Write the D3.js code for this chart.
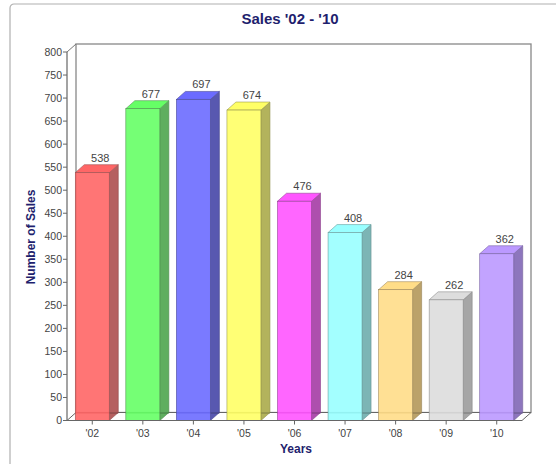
<!DOCTYPE html>
<html lang="en">
<head>
<meta charset="utf-8">
<script src="https://cdnjs.cloudflare.com/ajax/libs/d3/7.8.5/d3.min.js"></script>
<title>Sales '02 - '10</title>
<style>
body { margin: 0; background: #fff; }
text { font-family: "Liberation Sans", Arial, sans-serif; }
</style>
</head>
<body>
<div id="chart"></div>
<script>
const years = ["'02", "'03", "'04", "'05", "'06", "'07", "'08", "'09", "'10"];
const sales = [538, 677, 697, 674, 476, 408, 284, 262, 362];
const frontColors = ["#ff6666", "#66ff66", "#6b6bff", "#ffff66", "#ff55ff", "#99ffff", "#ffdd88", "#dddddd", "#bb99ff"];
const sideColors  = ["#b56060", "#5fae5f", "#5858b0", "#b3b35c", "#ae4fae", "#7cb5b5", "#bba26a", "#a6a6a6", "#8d76bd"];
const yTicks = d3.range(0, 801, 50);

const width = 556, height = 464;
const dx = 9, dy = 8;               // 3d depth
const plotL = 67, plotR = 522, plotT = 52, plotB = 420.5;

const svg = d3.select("#chart").append("svg").attr("width", width).attr("height", height);

// panel border
svg.append("rect").attr("x", 10).attr("y", 4).attr("width", 600).attr("height", 520)
  .attr("rx", 4).attr("fill", "none").attr("stroke", "#b0b0b0").attr("stroke-width", 1.2);

const x = d3.scaleBand().domain(years).range([plotL, plotR]);
const y = d3.scaleLinear().domain([0, 800]).range([plotB, plotT]);
const bw = 34;

// back wall
svg.append("rect").attr("x", plotL + dx).attr("y", plotT - dy)
  .attr("width", plotR - plotL).attr("height", plotB - plotT)
  .attr("fill", "#fff").attr("stroke", "#888").attr("stroke-width", 1.3);

// floor
svg.append("polygon")
  .attr("points", [[plotL, plotB], [plotL + dx, plotB - dy], [plotR + dx, plotB - dy], [plotR, plotB]].join(" "))
  .attr("fill", "#fff").attr("stroke", "#666").attr("stroke-width", 1);

// left wall top edge
svg.append("line").attr("x1", plotL).attr("y1", plotT).attr("x2", plotL + dx).attr("y2", plotT - dy)
  .attr("stroke", "#777");

// bars
const bars = svg.append("g").selectAll("g").data(sales).enter().append("g");
bars.each(function(v, i) {
  const g = d3.select(this);
  const x0 = x(years[i]) + x.bandwidth() / 2 - bw / 2, x1 = x0 + bw;
  const yt = y(v), yb = y(0);
  g.append("polygon")
    .attr("points", [[x1, yb], [x1 + dx, yb - dy], [x1 + dx, yt - dy], [x1, yt]].join(" "))
    .attr("fill", sideColors[i]).attr("stroke", d3.color(sideColors[i]).darker(0.6)).attr("stroke-width", 0.6);
  g.append("polygon")
    .attr("points", [[x0, yt], [x0 + dx, yt - dy], [x1 + dx, yt - dy], [x1, yt]].join(" "))
    .attr("fill", frontColors[i]).attr("stroke", d3.color(sideColors[i]).darker(0.4)).attr("stroke-width", 0.6);
  g.append("line").attr("x1", x0).attr("y1", yb - dy + 0.5).attr("x2", x1 + dx).attr("y2", yb - dy + 0.5)
    .attr("stroke", d3.color(sideColors[i]).darker(1)).attr("stroke-width", 1);
  g.append("rect").attr("x", x0).attr("y", yt).attr("width", bw).attr("height", yb - yt)
    .attr("fill", frontColors[i]).attr("fill-opacity", 0.9)
    .attr("stroke", d3.color(sideColors[i]).darker(0.4)).attr("stroke-width", 0.6);
  g.append("text").attr("x", x0 + bw / 2 + dx - 1).attr("y", yt - dy - 3)
    .attr("text-anchor", "middle").attr("font-size", 11).attr("fill", "#444")
    .text(v);
});

// y axis
const yAxis = svg.append("g");
yAxis.append("line").attr("x1", plotL).attr("y1", plotT).attr("x2", plotL).attr("y2", plotB)
  .attr("stroke", "#666").attr("stroke-width", 1.2);
yAxis.selectAll(".tk").data(yTicks).enter().append("line")
  .attr("x1", plotL - 4).attr("x2", plotL).attr("y1", d => y(d)).attr("y2", d => y(d))
  .attr("stroke", "#666");
yAxis.selectAll(".lb").data(yTicks).enter().append("text")
  .attr("x", plotL - 5).attr("y", d => y(d) + 3.8).attr("text-anchor", "end")
  .attr("font-size", 10.5).attr("fill", "#444").text(d => d);

// x axis
const xAxis = svg.append("g");
xAxis.append("line").attr("x1", plotL).attr("y1", plotB).attr("x2", plotR).attr("y2", plotB)
  .attr("stroke", "#666").attr("stroke-width", 1.2);
xAxis.selectAll(".tk").data(years).enter().append("line")
  .attr("x1", d => x(d) + x.bandwidth() / 2).attr("x2", d => x(d) + x.bandwidth() / 2)
  .attr("y1", plotB).attr("y2", plotB + 4).attr("stroke", "#666");
xAxis.selectAll(".lb").data(years).enter().append("text")
  .attr("x", d => x(d) + x.bandwidth() / 2).attr("y", plotB + 16).attr("text-anchor", "middle")
  .attr("font-size", 10.5).attr("fill", "#444").text(d => d);

// titles
svg.append("text").attr("x", 290).attr("y", 23.5).attr("text-anchor", "middle")
  .attr("font-size", 15).attr("font-weight", "bold").attr("fill", "#1f1f6e").text("Sales '02 - '10");
svg.append("text").attr("x", 296).attr("y", 453).attr("text-anchor", "middle")
  .attr("font-size", 12).attr("font-weight", "bold").attr("fill", "#1f1f6e").text("Years");
svg.append("text").attr("transform", "translate(34.5,237) rotate(-90)").attr("text-anchor", "middle")
  .attr("font-size", 12).attr("font-weight", "bold").attr("fill", "#1f1f6e").text("Number of Sales");
</script>
</body>
</html>
